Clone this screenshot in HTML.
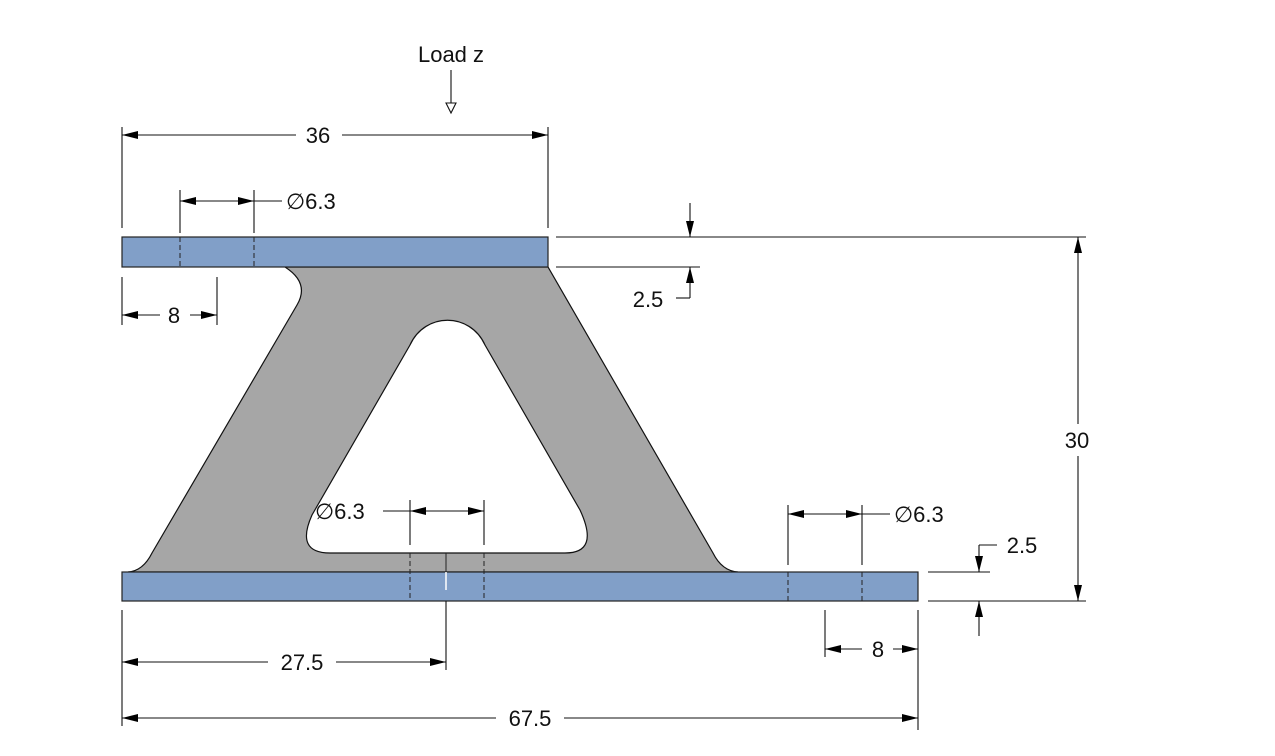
<!DOCTYPE html>
<html><head><style>
html,body{margin:0;padding:0;background:#fff;}
svg{display:block;}
text{font-family:"Liberation Sans",Arial,sans-serif;font-size:22px;fill:#111;}
</style></head><body>
<svg width="1275" height="756" viewBox="0 0 1275 756" xmlns="http://www.w3.org/2000/svg">
<defs>
<marker id="a" viewBox="0 0 16 8" refX="16" refY="4" markerWidth="16" markerHeight="8" markerUnits="userSpaceOnUse" orient="auto-start-reverse"><path d="M0,0 L16,4 L0,8 Z" fill="#000"/></marker>
</defs>
<path d="M285,267 L548,267 L713,553 Q722,571 738,572 L128,572 Q143,571 152,553 L297,305 Q310,283 285,267 Z" fill="#a6a6a6" stroke="#111" stroke-width="1.2"/>
<path d="M410,345 C425,312 470,312 485,345 L580,510 Q600,553 565,553 L330,553 Q295,553 312,515 Z" fill="#fff" stroke="#111" stroke-width="1.2"/>
<rect x="122" y="237" width="426" height="30" fill="#819fc8" stroke="#222" stroke-width="1.2"/>
<rect x="122" y="572" width="796" height="29" fill="#819fc8" stroke="#222" stroke-width="1.2"/>
<g stroke="#222" stroke-width="1" stroke-dasharray="5,3">
<line x1="180" y1="237" x2="180" y2="267"/><line x1="254" y1="237" x2="254" y2="267"/>
<line x1="410" y1="553" x2="410" y2="601"/><line x1="484" y1="553" x2="484" y2="601"/>
<line x1="788" y1="572" x2="788" y2="601"/><line x1="862" y1="572" x2="862" y2="601"/>
</g>
<line x1="446" y1="572" x2="446" y2="590" stroke="#fff" stroke-width="1.5"/>
<line x1="446" y1="553" x2="446" y2="572" stroke="#222" stroke-width="1"/>
<g stroke="#111" stroke-width="1.1" fill="none">
<line x1="451" y1="70" x2="451" y2="103"/>
<path d="M446,103 L456,103 L451,113 Z" fill="#fff"/>
<line x1="122" y1="127" x2="122" y2="228"/><line x1="548" y1="127" x2="548" y2="228"/>
<line x1="122" y1="135" x2="296" y2="135" marker-start="url(#a)"/>
<line x1="342" y1="135" x2="548" y2="135" marker-end="url(#a)"/>
<line x1="180" y1="190" x2="180" y2="233"/><line x1="254" y1="190" x2="254" y2="233"/>
<line x1="180" y1="201" x2="254" y2="201" marker-start="url(#a)" marker-end="url(#a)"/>
<line x1="254" y1="201" x2="282" y2="201"/>
<line x1="122" y1="277" x2="122" y2="325"/><line x1="217" y1="277" x2="217" y2="325"/>
<line x1="160" y1="315" x2="122" y2="315" marker-end="url(#a)"/>
<line x1="190" y1="315" x2="217" y2="315" marker-end="url(#a)"/>
<line x1="556" y1="237" x2="1086" y2="237"/>
<line x1="556" y1="267" x2="700" y2="267"/>
<line x1="690" y1="203" x2="690" y2="237" marker-end="url(#a)"/>
<line x1="690" y1="298" x2="690" y2="267" marker-end="url(#a)"/>
<line x1="690" y1="298" x2="676" y2="298"/>
<line x1="1078" y1="237" x2="1078" y2="424" marker-start="url(#a)"/>
<line x1="1078" y1="456" x2="1078" y2="601" marker-end="url(#a)"/>
<line x1="928" y1="601" x2="1086" y2="601"/>
<line x1="928" y1="572" x2="990" y2="572"/>
<line x1="979" y1="545" x2="979" y2="572" marker-end="url(#a)"/>
<line x1="979" y1="545" x2="997" y2="545"/>
<line x1="979" y1="636" x2="979" y2="601" marker-end="url(#a)"/>
<line x1="788" y1="505" x2="788" y2="565"/><line x1="862" y1="505" x2="862" y2="565"/>
<line x1="788" y1="514" x2="862" y2="514" marker-start="url(#a)" marker-end="url(#a)"/>
<line x1="862" y1="514" x2="890" y2="514"/>
<line x1="410" y1="500" x2="410" y2="545"/><line x1="484" y1="500" x2="484" y2="545"/>
<line x1="410" y1="511" x2="484" y2="511" marker-start="url(#a)" marker-end="url(#a)"/>
<line x1="383" y1="511" x2="410" y2="511"/>
<line x1="122" y1="610" x2="122" y2="726"/>
<line x1="446" y1="601" x2="446" y2="670"/>
<line x1="918" y1="610" x2="918" y2="730"/>
<line x1="122" y1="662" x2="268" y2="662" marker-start="url(#a)"/>
<line x1="336" y1="662" x2="446" y2="662" marker-end="url(#a)"/>
<line x1="122" y1="718" x2="496" y2="718" marker-start="url(#a)"/>
<line x1="564" y1="718" x2="918" y2="718" marker-end="url(#a)"/>
<line x1="825" y1="610" x2="825" y2="657"/>
<line x1="862" y1="649" x2="825" y2="649" marker-end="url(#a)"/>
<line x1="893" y1="649" x2="918" y2="649" marker-end="url(#a)"/>
</g>
<text x="451" y="62" text-anchor="middle">Load z</text>
<text x="318" y="143" text-anchor="middle">36</text>
<text x="286" y="209">∅6.3</text>
<text x="174" y="323" text-anchor="middle">8</text>
<text x="648" y="307" text-anchor="middle">2.5</text>
<text x="1077" y="448" text-anchor="middle">30</text>
<text x="1022" y="553" text-anchor="middle">2.5</text>
<text x="894" y="522">∅6.3</text>
<text x="315" y="519">∅6.3</text>
<text x="302" y="670" text-anchor="middle">27.5</text>
<text x="530" y="726" text-anchor="middle">67.5</text>
<text x="878" y="657" text-anchor="middle">8</text>
</svg>
</body></html>
